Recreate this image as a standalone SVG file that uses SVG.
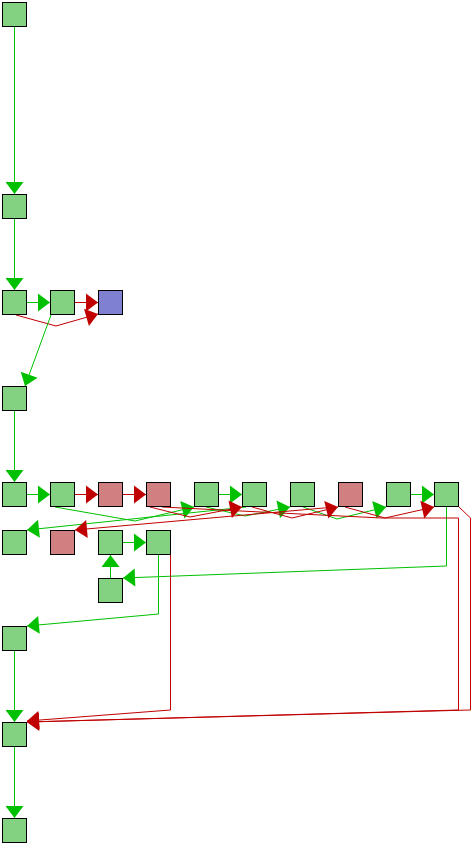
<svg xmlns="http://www.w3.org/2000/svg" width="472" height="844" viewBox="0 0 472 844">
<defs>
<style>
.n rect{stroke:#000;stroke-width:1}
.g{fill:#82d282}
.p{fill:#d08080}
.b{fill:#8080d0}
.eg{fill:none;stroke:#00c000;stroke-width:1;marker-end:url(#ag)}
.er{fill:none;stroke:#c00000;stroke-width:1;marker-end:url(#ar)}
</style>
<marker id="ag" markerUnits="userSpaceOnUse" markerWidth="14" markerHeight="20" viewBox="0 -10 13 20" refX="12" refY="0" orient="auto"><path d="M0,-9 L12,0 L0,9 z" fill="#00c000"/></marker>
<marker id="ar" markerUnits="userSpaceOnUse" markerWidth="14" markerHeight="20" viewBox="0 -10 13 20" refX="12" refY="0" orient="auto"><path d="M0,-9 L12,0 L0,9 z" fill="#c00000"/></marker>
</defs>
<rect width="472" height="844" fill="#fff"/>
<g id="edges">
<polyline class="eg" points="14.5,27 14.5,194"/>
<polyline class="eg" points="14.5,219 14.5,290"/>
<polyline class="eg" points="27,302.5 50,302.5"/>
<polyline class="er" points="75,302.5 98,302.5"/>
<polyline class="er" points="16,315 56,326 98,314"/>
<polyline class="eg" points="51,315 25,386"/>
<polyline class="eg" points="14.5,411 14.5,482"/>
<polyline class="eg" points="27,494.5 50,494.5"/>
<polyline class="er" points="75,494.5 98,494.5"/>
<polyline class="er" points="123,494.5 146,494.5"/>
<polyline class="eg" points="219,494.5 242,494.5"/>
<polyline class="eg" points="411,494.5 434,494.5"/>
<polyline class="eg" points="123,542.5 146,542.5"/>
<polyline class="eg" points="110.5,578 110.5,555"/>
<polyline class="eg" points="14.5,651 14.5,722"/>
<polyline class="eg" points="14.5,747 14.5,818"/>
<polyline class="eg" points="446.5,507 446.5,566 123,578"/>
<polyline class="eg" points="158.5,555 158.5,614 27,626"/>
<polyline class="eg" points="55,507 135,521 194,507"/>
<polyline class="eg" points="206,507 245,516 290,507"/>
<polyline class="eg" points="303,507 337,519 386,507"/>
<polyline class="eg" points="246,507 27,530"/>
<polyline class="er" points="150,507 190,517 242,507"/>
<polyline class="er" points="252,507 292,518 338,507"/>
<polyline class="er" points="345,507 385,518 434,507"/>
<polyline class="er" points="335,507 75,530"/>
<polyline class="er" points="162,507 300,514 382,518 458.5,518 458.5,710 27,722"/>
<polyline class="er" points="459,507 470.5,518 470.5,710 27,722"/>
<polyline class="er" points="170.5,555 170.5,710 27,721"/>
</g>
<g id="nA" class="n"><rect class="g" x="2.5" y="2.5" width="24" height="24"/></g>
<g id="nB" class="n"><rect class="g" x="2.5" y="194.5" width="24" height="24"/></g>
<g id="nC" class="n"><rect class="g" x="2.5" y="290.5" width="24" height="24"/></g>
<g id="nD" class="n"><rect class="g" x="50.5" y="290.5" width="24" height="24"/></g>
<g id="nE" class="n"><rect class="b" x="98.5" y="290.5" width="24" height="24"/></g>
<g id="nF" class="n"><rect class="g" x="2.5" y="386.5" width="24" height="24"/></g>
<g id="nG" class="n"><rect class="g" x="2.5" y="482.5" width="24" height="24"/></g>
<g id="nH" class="n"><rect class="g" x="50.5" y="482.5" width="24" height="24"/></g>
<g id="nI" class="n"><rect class="p" x="98.5" y="482.5" width="24" height="24"/></g>
<g id="nJ" class="n"><rect class="p" x="146.5" y="482.5" width="24" height="24"/></g>
<g id="nK" class="n"><rect class="g" x="194.5" y="482.5" width="24" height="24"/></g>
<g id="nL" class="n"><rect class="g" x="242.5" y="482.5" width="24" height="24"/></g>
<g id="nM" class="n"><rect class="g" x="290.5" y="482.5" width="24" height="24"/></g>
<g id="nN" class="n"><rect class="p" x="338.5" y="482.5" width="24" height="24"/></g>
<g id="nO" class="n"><rect class="g" x="386.5" y="482.5" width="24" height="24"/></g>
<g id="nP" class="n"><rect class="g" x="434.5" y="482.5" width="24" height="24"/></g>
<g id="nQ" class="n"><rect class="g" x="2.5" y="530.5" width="24" height="24"/></g>
<g id="nR" class="n"><rect class="p" x="50.5" y="530.5" width="24" height="24"/></g>
<g id="nS" class="n"><rect class="g" x="98.5" y="530.5" width="24" height="24"/></g>
<g id="nT" class="n"><rect class="g" x="146.5" y="530.5" width="24" height="24"/></g>
<g id="nU" class="n"><rect class="g" x="98.5" y="578.5" width="24" height="24"/></g>
<g id="nV" class="n"><rect class="g" x="2.5" y="626.5" width="24" height="24"/></g>
<g id="nW" class="n"><rect class="g" x="2.5" y="722.5" width="24" height="24"/></g>
<g id="nX" class="n"><rect class="g" x="2.5" y="818.5" width="24" height="24"/></g>
</svg>
